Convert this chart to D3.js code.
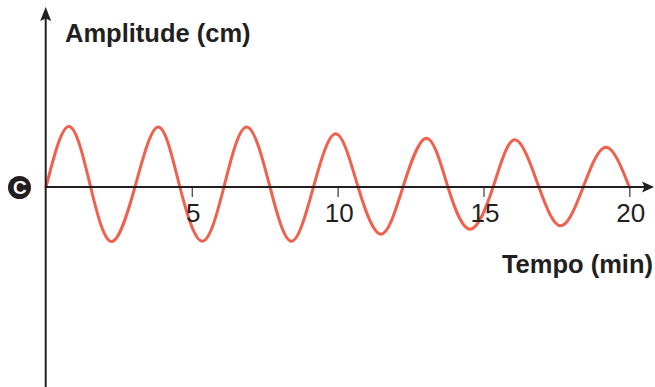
<!DOCTYPE html>
<html>
<head>
<meta charset="utf-8">
<script src="https://cdn.jsdelivr.net/npm/d3@7"></script>
<style>
  html, body { margin: 0; padding: 0; background: #fff; }
  svg { display: block; }
</style>
</head>
<body>
<svg id="chart" width="655" height="387"></svg>
<script>
// ---- data ----
const timeMin = [0, 0.79, 1.53, 2.25, 3.05, 3.85, 4.59, 5.36, 6.10, 6.88, 7.68, 8.42, 9.17,
                 9.94, 10.70, 11.49, 12.24, 13.05, 13.78, 14.54, 15.33, 16.08, 16.90, 17.66,
                 18.42, 19.20, 20];
const amplitudeCm = [0, 6.05, 0, -5.45, 0, 6.0, 0, -5.42, 0, 6.0, 0, -5.42, 0,
                     5.32, 0, -4.72, 0, 4.88, 0, -4.22, 0, 4.72, 0, -3.88,
                     0, 3.98, 0];
const xTicks = [5, 10, 15, 20];
const xTickLabels = ["5", "10", "15", "20"];
const yTitle = "Amplitude (cm)";
const xTitle = "Tempo (min)";
const originLabel = "C";

// ---- drawing ----
const svg = d3.select("#chart");
const ink = "#231f20";
const waveColor = "#f0604d";
const font = "'Liberation Sans', Arial, Helvetica, sans-serif";

const x = d3.scaleLinear().domain([0, 20]).range([46, 629.3]);
const y = d3.scaleLinear().domain([-20, 17.7]).range([387, 10]);

const x0 = x(0) - 0.3, y0 = y(0);

// wave
const pts = timeMin.map((t, i) => [t, amplitudeCm[i]]);
svg.append("path")
  .datum(pts)
  .attr("fill", "none")
  .attr("stroke", waveColor)
  .attr("stroke-width", 3)
  .attr("stroke-linecap", "round")
  .attr("d", d3.line().x(d => x(d[0])).y(d => y(d[1])).curve(d3.curveNatural));

// x axis ticks and labels
const xAxis = d3.axisBottom(x)
  .tickValues(xTicks)
  .tickFormat((d, i) => xTickLabels[i])
  .tickSize(10)
  .tickPadding(7);
const gx = svg.append("g").attr("transform", `translate(0,${y0})`).call(xAxis);
gx.select(".domain").remove();
gx.selectAll(".tick line").attr("stroke", "#555").attr("stroke-width", 1.4);
gx.selectAll(".tick text")
  .attr("fill", ink)
  .style("font-family", font)
  .style("font-size", "26px")
  .attr("dx", "1");

// x axis line + arrow
svg.append("line")
  .attr("x1", x0).attr("x2", 645).attr("y1", y0).attr("y2", y0)
  .attr("stroke", ink).attr("stroke-width", 2);
svg.append("path")
  .attr("d", `M654,${y0} L642,${y0 - 5.5} L644.5,${y0} L642,${y0 + 5.5} Z`)
  .attr("fill", ink);

// y axis line + arrow
svg.append("line")
  .attr("x1", x0).attr("x2", x0).attr("y1", 387).attr("y2", 18)
  .attr("stroke", ink).attr("stroke-width", 2);
svg.append("path")
  .attr("d", `M${x0},7 L${x0 - 5.5},21 L${x0},18.5 L${x0 + 5.5},21 Z`)
  .attr("fill", ink);

// titles
svg.append("text")
  .attr("x", 65).attr("y", 42)
  .attr("fill", ink)
  .style("font-family", font).style("font-weight", "bold").style("font-size", "25.5px")
  .text(yTitle);
svg.append("text")
  .attr("x", 653).attr("y", 273)
  .attr("text-anchor", "end")
  .attr("fill", ink)
  .style("font-family", font).style("font-weight", "bold").style("font-size", "25.5px")
  .text(xTitle);

// origin mark
svg.append("circle").attr("cx", 19.5).attr("cy", 187.5).attr("r", 11.5).attr("fill", ink);
svg.append("text")
  .attr("x", 19.8).attr("y", 187.5)
  .attr("text-anchor", "middle")
  .attr("dominant-baseline", "central")
  .attr("fill", "#fff")
  .style("font-family", font).style("font-weight", "bold").style("font-size", "19px")
  .text(originLabel);
</script>
</body>
</html>
